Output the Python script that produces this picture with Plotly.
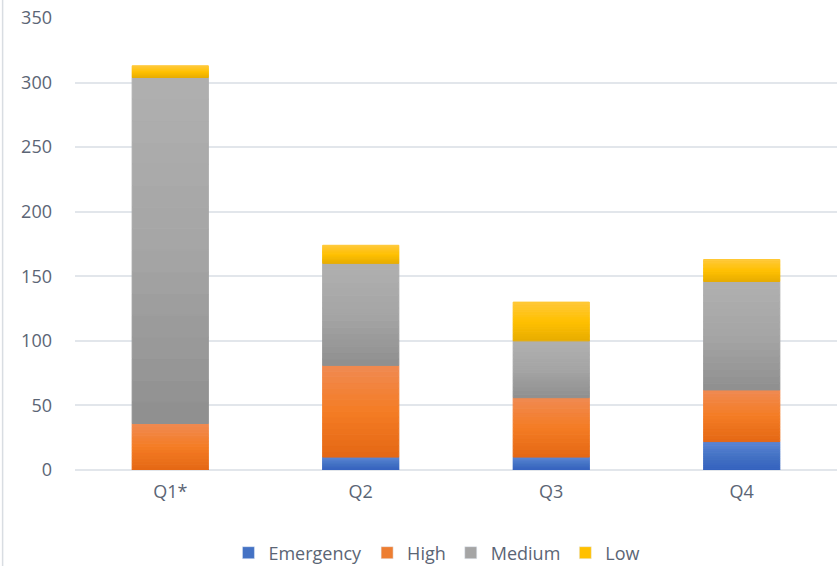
import plotly.graph_objects as go

quarters = ["Q1*", "Q2", "Q3", "Q4"]
emergency = [0, 10, 10, 22]
high = [36, 71, 46, 40]
medium = [268, 79, 44, 84]
low = [9, 14, 30, 17]

series_names = ["Emergency", "High", "Medium", "Low"]
series_values = [emergency, high, medium, low]
# gradient stops per series: top, middle, bottom
series_colors = [
    ("#5B85D3", "#4472C4", "#3461BE"),
    ("#F08A52", "#F47C24", "#E46714"),
    ("#B0B0B0", "#A5A5A5", "#8F8F8F"),
    ("#FFC838", "#FFC000", "#E6AC00"),
]
legend_colors = ["#4472C4", "#ED7D31", "#A5A5A5", "#FFC000"]

N_SLICES = 16


def hex_to_rgb(h):
    h = h.lstrip("#")
    return tuple(int(h[i:i + 2], 16) for i in (0, 2, 4))


def blend(c1, c2, t):
    a, b = hex_to_rgb(c1), hex_to_rgb(c2)
    return "rgb(%d,%d,%d)" % tuple(round(a[i] + (b[i] - a[i]) * t) for i in range(3))


def gradient_color(stops, t):
    # t = 0 at bottom, 1 at top
    top, mid, bot = stops
    if t < 0.5:
        return blend(bot, mid, t / 0.5)
    return blend(mid, top, (t - 0.5) / 0.5)


fig = go.Figure()

bottoms = [0] * len(quarters)
for name, vals, stops, lc in zip(series_names, series_values, series_colors, legend_colors):
    for k in range(N_SLICES):
        t = (k + 0.5) / N_SLICES
        col = gradient_color(stops, t)
        fig.add_trace(go.Bar(
            x=quarters,
            y=[v / N_SLICES for v in vals],
            base=[b + v * k / N_SLICES for b, v in zip(bottoms, vals)],
            marker=dict(color=col, line=dict(width=1, color=col)),
            width=0.4,
            showlegend=False,
            legendgroup=name,
            hoverinfo="skip",
        ))
    # legend entry for the series
    fig.add_trace(go.Bar(
        x=[None], y=[None], name=name,
        marker=dict(color=lc), legendgroup=name, showlegend=True,
    ))
    bottoms = [b + v for b, v in zip(bottoms, vals)]

tick_font = dict(family="Open Sans, Liberation Sans, sans-serif", size=18, color="#5B6575")

fig.update_layout(
    barmode="overlay",
    width=837, height=566,
    margin=dict(l=75, r=0, t=18, b=96, autoexpand=False),
    paper_bgcolor="white",
    plot_bgcolor="white",
    font=tick_font,
    xaxis=dict(
        type="category", showgrid=False, showline=False, ticks="",
        tickfont=tick_font, range=[-0.5, 3.5], ticklabelstandoff=9,
        automargin=False,
    ),
    yaxis=dict(
        range=[0, 350], tickvals=[0, 50, 100, 150, 200, 250, 300, 350],
        showgrid=True, gridcolor="#E2E6EB", gridwidth=1.5, zeroline=True,
        zerolinecolor="#E2E6EB", zerolinewidth=1.5, showline=False,
        tickfont=tick_font, ticklabelstandoff=22, automargin=False,
    ),
    legend=dict(
        orientation="h", x=0.475, xanchor="center",
        yref="container", y=0.023, yanchor="middle",
        font=tick_font, itemwidth=30, traceorder="normal",
    ),
    shapes=[dict(type="line", xref="paper", yref="paper", x0=-0.095, x1=-0.095,
                 y0=-0.22, y1=1.04, line=dict(color="#D9DDE2", width=1.5))],
)

fig.write_html("out.html")
